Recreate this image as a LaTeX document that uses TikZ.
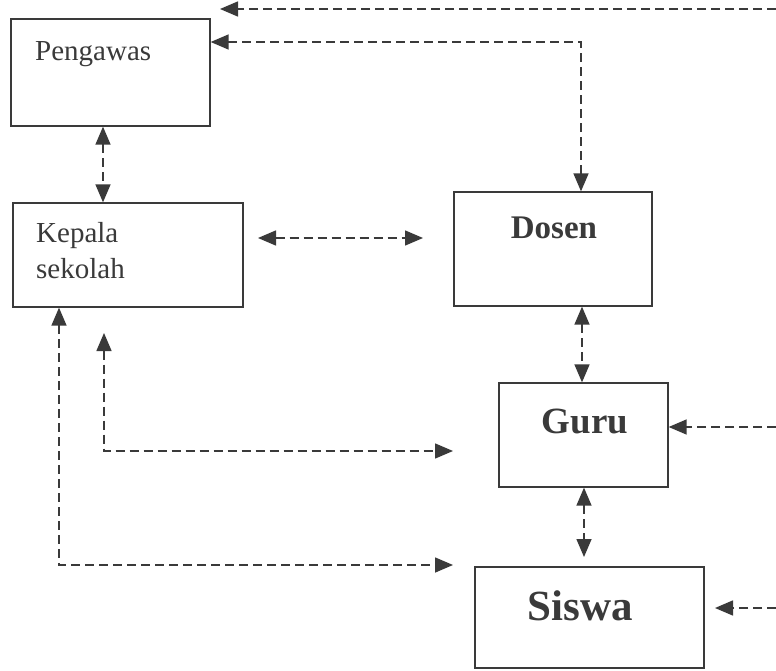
\documentclass[tikz,border=0pt]{standalone}
\usepackage{fontspec}
\setmainfont{Liberation Serif}
\usetikzlibrary{arrows.meta}
\definecolor{ink}{HTML}{3A3A3A}
\begin{document}
\begin{tikzpicture}[x=1pt,y=-1pt,
  box/.style={draw=ink, line width=1.3pt, inner sep=0pt, fill=none},
  lbl/.style={text=ink, inner sep=0pt, font=\fontsize{29}{36}\selectfont},
  blbl/.style={text=ink, inner sep=0pt},
  conn/.style={draw=ink, line width=1.5pt, dash pattern=on 9pt off 5pt},
  tip/.style={-{Triangle[length=18pt,width=15pt]}},
  tips/.style={{Triangle[length=18pt,width=15pt]}-{Triangle[length=18pt,width=15pt]}}
]
\useasboundingbox (0,0) rectangle (776,670);
\fill[white] (0,0) rectangle (776,670);

% boxes
\node[box, minimum width=199pt, minimum height=107pt] (pengawas) at (110.5,72.5) {};
\node[box, minimum width=230pt, minimum height=104pt] (kepala) at (128,255) {};
\node[box, minimum width=198pt, minimum height=114pt] (dosen) at (553,249) {};
\node[box, minimum width=169pt, minimum height=104pt] (guru) at (583.5,435) {};
\node[box, minimum width=229pt, minimum height=101pt] (siswa) at (589.5,617.5) {};

% texts
\node[lbl, anchor=base west] (pengawas-t) at (35,60) {Pengawas};
\node[lbl, anchor=north west, align=left] (kepala-t) at (36,222) {Kepala\\sekolah};
\node[blbl, anchor=base, font=\bfseries\fontsize{33}{40}\selectfont] (dosen-t) at (554,238) {Dosen};
\node[blbl, anchor=base, font=\bfseries\fontsize{37}{44}\selectfont] (guru-t) at (585,433) {Guru};
\node[blbl, anchor=base, font=\bfseries\fontsize{43}{50}\selectfont] (siswa-t) at (580,620) {Siswa};

% helper coordinates
\coordinate (topR) at (776,9);
\coordinate (topL) at (220,9);
\coordinate (pd) at (581,42);
\coordinate (pkx) at (103,0);
\coordinate (kd1) at (258,238);
\coordinate (kd2) at (423,238);
\coordinate (dgx) at (582,0);
\coordinate (gs) at (584,557);
\coordinate (rg) at (776,427);
\coordinate (rs1) at (776,608);
\coordinate (rs2) at (715,608);
\coordinate (l1top) at (104,333);
\coordinate (l1c) at (104,451);
\coordinate (l1end) at (453,451);
\coordinate (l2x) at (59,0);
\coordinate (l2c) at (59,565);
\coordinate (l2end) at (453,565);

% connectors
\draw[conn, tip] (topR) -- (topL);
\draw[conn, tips] (pengawas.east |- pd) -- (pd) -- (pd |- dosen.north);
\draw[conn, tips] (pengawas.south -| pkx) -- (kepala.north -| pkx);
\draw[conn, tips] (kd1) -- (kd2);
\draw[conn, tips] (dosen.south -| dgx) -- (guru.north -| dgx);
\draw[conn, tips] (guru.south -| gs) -- (gs);
\draw[conn, tip] (rg) -- (guru.east |- rg);
\draw[conn, tip] (rs1) -- (rs2);
\draw[conn, tips] (l1top) -- (l1c) -- (l1end);
\draw[conn, tips] (kepala.south -| l2x) -- (l2c) -- (l2end);
\end{tikzpicture}
\end{document}
